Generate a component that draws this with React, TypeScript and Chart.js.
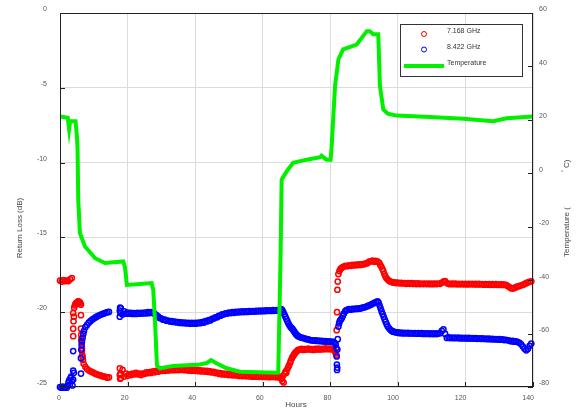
import React, { useEffect, useRef } from 'react';
import { Chart, registerables } from 'chart.js';

Chart.register(...registerables);

// ---------- text ----------
const seriesNames = ['7.168 GHz', '8.422 GHz', 'Temperature'];
const xTitle = 'Hours';
const yTitle = 'Return Loss (dB)';
const y2TitleMain = 'Temperature (';
const y2TitleUnit = 'C)';

// ---------- data ----------
// Sampled runs: [start hour, readings every 0.5 h]
const SAMPLE_STEP = 0.5;

const loss7168Runs: [number, number[]][] = [
  [0, [-17.88, -17.95, -17.85, -17.93, -17.88, -17.92, -17.8, -17.72]],
  [7, [-23.45, -23.65, -23.8, -23.88, -23.95, -24.0, -24.05, -24.12, -24.15, -24.2, -24.22, -24.28, -24.3, -24.32, -24.38, -24.35]],
  [18, [
    -24.4, -23.85, -24.3, -24.1, -24.25, -24.15, -24.2, -24.1, -24.15, -24.05,
    -24.15, -24.1, -24.2, -24.1, -24.12, -24.02, -24.08, -24.0, -24.05, -23.95,
    -24.02, -23.92, -23.98, -23.88, -23.93, -23.85, -23.92, -23.84, -23.9, -23.82,
    -23.88, -23.8, -23.88, -23.82, -23.87, -23.8, -23.86, -23.8, -23.88, -23.82,
    -23.9, -23.84, -23.92, -23.85, -23.92, -23.86, -23.94, -23.88, -23.96, -23.9,
    -23.97, -23.92, -23.99, -23.95, -24.03, -23.98, -24.07, -24.03, -24.12, -24.07,
    -24.16, -24.1, -24.17, -24.12, -24.2, -24.14, -24.22, -24.16, -24.23, -24.18,
    -24.26, -24.2, -24.27, -24.21, -24.28, -24.22, -24.29, -24.24, -24.31, -24.25,
    -24.31, -24.26, -24.32, -24.26, -24.32, -24.27, -24.33, -24.27, -24.34, -24.28,
    -24.33, -24.28, -24.35, -24.3, -24.37,
  ]],
  [71, [-22.5, -22.45, -22.52, -22.46, -22.5, -22.44, -22.5, -22.46, -22.52, -22.45, -22.5, -22.44, -22.5, -22.45, -22.48, -22.42, -22.47, -22.43, -22.48, -22.44, -22.5]],
  [84, [-16.95, -16.9, -16.93, -16.87, -16.9, -16.84, -16.88, -16.82, -16.86, -16.8, -16.84, -16.78, -16.8, -16.74, -16.72, -16.62, -16.6, -16.55, -16.62, -16.56, -16.62]],
  [99, [
    -18.0, -18.05, -18.02, -18.07, -18.04, -18.08, -18.05, -18.1, -18.06, -18.1,
    -18.06, -18.11, -18.07, -18.12, -18.07, -18.12, -18.08, -18.12, -18.08, -18.12,
    -18.08, -18.13, -18.09, -18.13, -18.08, -18.12, -18.08, -18.1, -18.03, -17.95,
    -17.92, -18.05, -18.1, -18.13, -18.09, -18.13, -18.09, -18.14, -18.1, -18.14,
    -18.1, -18.14, -18.1, -18.15, -18.1, -18.14, -18.1, -18.15, -18.11, -18.15,
    -18.11, -18.15, -18.12, -18.16, -18.12, -18.16, -18.12, -18.17, -18.13, -18.17,
    -18.13, -18.17, -18.14, -18.18, -18.14, -18.18, -18.17, -18.25, -18.32, -18.4,
    -18.42, -18.38, -18.33, -18.28, -18.25, -18.2, -18.17, -18.12, -18.06, -18.0,
    -17.97, -17.93,
  ]],
];

// irregular readings during fast transitions: [hour, dB]
const loss7168Transitions: [number, number][] = [
  [3.9, -20.06], [4.0, -20.6], [3.9, -21.1], [3.9, -21.6], [4.1, -20.3], [4.2, -19.7], [4.4, -19.55], [4.6, -19.45], [4.8, -19.4],
  [5.0, -19.35], [5.2, -19.3], [5.4, -19.28], [5.6, -19.3], [5.8, -19.32], [6.0, -19.4], [6.2, -19.5], [6.2, -20.2], [6.2, -21.1],
  [6.3, -21.5], [6.3, -21.8], [6.4, -22.0], [6.5, -22.4], [6.5, -22.6], [6.6, -22.85], [6.7, -23.0], [6.8, -23.2],
  [17.7, -23.75], [17.8, -24.45], [17.9, -24.1], [17.7, -24.2],
  [65.5, -24.45], [65.8, -24.6], [66.0, -24.25], [66.2, -24.7], [66.5, -24.1], [66.8, -23.95], [67.0, -24.05], [67.3, -23.8],
  [67.6, -23.65], [67.8, -23.55], [68.1, -23.4], [68.3, -23.25], [68.6, -23.1], [68.8, -23.0], [69.1, -22.9], [69.3, -22.82],
  [69.6, -22.72], [69.9, -22.65], [70.2, -22.58], [70.5, -22.52],
  [81.3, -22.6], [81.6, -22.75], [81.8, -22.85], [81.9, -21.2], [82.0, -20.0], [82.1, -18.5], [82.2, -17.95], [82.4, -17.45],
  [82.7, -17.25], [83.0, -17.12], [83.3, -17.05], [83.6, -17.0],
  [94.5, -16.7], [94.8, -16.85], [95.1, -16.95], [95.4, -17.1], [95.7, -17.25], [96.0, -17.45], [96.3, -17.6], [96.6, -17.72],
  [97.0, -17.82], [97.4, -17.9], [97.8, -17.95], [98.2, -17.98], [98.6, -18.02],
];

const loss8422Runs: [number, number[]][] = [
  [7.5, [-21.0, -20.85, -20.7, -20.6, -20.5, -20.42, -20.35, -20.28, -20.22, -20.17, -20.12, -20.08, -20.04, -20.0, -19.98]],
  [18, [
    -19.75, -20.15, -19.95, -20.1, -20.02, -20.1, -20.05, -20.12, -20.06, -20.12,
    -20.05, -20.1, -20.04, -20.09, -20.03, -20.08, -20.0, -20.06, -20.0, -20.06,
    -20.1, -20.2, -20.28, -20.38, -20.42, -20.5, -20.5, -20.57, -20.56, -20.62,
    -20.6, -20.65, -20.63, -20.69, -20.66, -20.72, -20.68, -20.74, -20.7, -20.75,
    -20.71, -20.77, -20.72, -20.77, -20.72, -20.76, -20.7, -20.74, -20.66, -20.7,
    -20.6, -20.62, -20.52, -20.55, -20.45, -20.42, -20.35, -20.33, -20.25, -20.23,
    -20.15, -20.14, -20.08, -20.09, -20.03, -20.06, -20.0, -20.04, -19.98, -20.02,
    -19.96, -20.0, -19.95, -19.99, -19.94, -19.98, -19.93, -19.97, -19.92, -19.96,
    -19.91, -19.95, -19.9, -19.94, -19.89, -19.93, -19.88, -19.92, -19.87, -19.92,
    -19.86, -19.91, -19.86, -19.9, -19.84,
  ]],
  [71, [-21.66, -21.7, -21.73, -21.76, -21.8, -21.82, -21.86, -21.88, -21.9, -21.88, -21.92, -21.9, -21.94, -21.92, -21.96, -21.94, -21.97, -21.95, -21.98, -21.96, -22.0]],
  [85, [-19.84, -19.8, -19.83, -19.78, -19.8, -19.76, -19.78, -19.74, -19.76, -19.7, -19.68, -19.64, -19.6, -19.55, -19.5, -19.44, -19.38, -19.32, -19.28]],
  [99, [
    -21.32, -21.36, -21.35, -21.4, -21.37, -21.42, -21.38, -21.42, -21.38, -21.43,
    -21.39, -21.43, -21.39, -21.44, -21.4, -21.44, -21.4, -21.45, -21.41, -21.45,
    -21.41, -21.46, -21.42, -21.46, -21.42, -21.46, -21.42, -21.4, -21.25, -21.15,
    -21.45, -21.72, -21.68, -21.73, -21.69, -21.74, -21.7, -21.74, -21.7, -21.75,
    -21.71, -21.75, -21.71, -21.76, -21.72, -21.76, -21.73, -21.77, -21.73, -21.78,
    -21.74, -21.78, -21.75, -21.79, -21.76, -21.8, -21.77, -21.81, -21.78, -21.82,
    -21.79, -21.83, -21.8, -21.84, -21.82, -21.86, -21.84, -21.88, -21.9, -21.95,
    -21.92, -21.97, -21.95, -22.0, -22.05, -22.15, -22.3, -22.45, -22.55, -22.45,
    -22.25, -22.1,
  ]],
];

const loss8422Transitions: [number, number][] = [
  [0.0, -25.0], [0.4, -25.05], [0.8, -24.98], [1.2, -25.05], [1.6, -25.0], [2.0, -25.05], [2.3, -24.9], [2.5, -24.7], [2.7, -24.55],
  [2.9, -24.85], [3.1, -24.4], [3.3, -24.3], [3.5, -24.6], [3.7, -24.9], [3.9, -24.5], [4.1, -24.05], [3.9, -23.9], [3.9, -22.6],
  [6.2, -24.1], [6.2, -23.07], [6.3, -22.5], [6.4, -22.2], [6.5, -21.95], [6.7, -21.7], [6.9, -21.45], [7.1, -21.25],
  [17.7, -20.3], [17.8, -19.7], [17.9, -20.05], [17.7, -19.9],
  [65.5, -19.8], [65.8, -19.88], [66.1, -20.0], [66.4, -20.15], [66.7, -20.3], [67.0, -20.45], [67.3, -20.6], [67.6, -20.75],
  [67.9, -20.88], [68.2, -20.98], [68.5, -21.05], [68.8, -21.12], [69.1, -21.22], [69.4, -21.32], [69.7, -21.42], [70.0, -21.5],
  [70.3, -21.57], [70.6, -21.62],
  [81.3, -22.05], [81.6, -22.15], [81.8, -22.4], [81.9, -22.96], [81.95, -23.5], [82.0, -23.86], [82.05, -23.7], [82.1, -22.5],
  [82.2, -21.8], [82.4, -20.96], [82.6, -20.75], [82.8, -20.6], [83.1, -20.5], [83.4, -20.4], [83.7, -20.25], [84.0, -20.1],
  [84.4, -19.95], [84.7, -19.88],
  [94.3, -19.35], [94.6, -19.55], [94.9, -19.75], [95.2, -19.95], [95.5, -20.12], [95.8, -20.3], [96.1, -20.48], [96.4, -20.65],
  [96.7, -20.8], [97.0, -20.95], [97.4, -21.08], [97.8, -21.18], [98.2, -21.25], [98.6, -21.3],
];

// [hour, temperature °C]
const temperature: [number, number][] = [
  [0, 21.3], [2.3, 20.8], [2.7, 16.6], [3.0, 19.5], [4.6, 19.5], [5.0, 14], [5.2, 8.9], [5.4, -9.9], [5.9, -22.4], [7.4, -27.4],
  [10.4, -31.8], [13.3, -33.6], [18.7, -33.0], [19.2, -34.9], [19.8, -41.8], [23.7, -41.4], [27.1, -41.1], [27.6, -43.6],
  [28.1, -55], [28.7, -72], [29.6, -73], [33.5, -72.1], [41.4, -71.6], [43.5, -71], [44.7, -69.9], [45.9, -70.8], [49.3, -73],
  [53.3, -74.3], [64.1, -74.7], [64.6, -74.6], [65.3, -30], [65.6, -2.4], [67.1, 0.7], [69.0, 3.9], [73.0, 5.1], [77.0, 6.0],
  [77.4, 6.6], [78.9, 5.1], [80.1, 5.1], [80.4, 10], [81.4, 32.6], [82.4, 42.6], [83.8, 46.4], [87.8, 48.2], [89.3, 50.7],
  [90.8, 53.2], [91.7, 53.2], [92.7, 52], [94.2, 52], [94.7, 32.6], [95.7, 23.9], [97, 22.3], [99.6, 21.6], [109.5, 21.1],
  [119.4, 20.4], [128.2, 19.5], [132.2, 20.6], [140, 21.3],
];

const xRange = [0, 140];
const lossRange = [-25, 0];
const tempRange = [-80, 60];

const RED = '#ff0000';
const BLUE = '#0000ff';
const GREEN = '#00f000';
const FONT = '"Liberation Sans", Arial, sans-serif';

const runsToXY = (runs: [number, number[]][]) =>
  runs.flatMap(([start, vals]) => vals.map((y, i) => ({ x: start + i * SAMPLE_STEP, y })));
const toXY = (arr: [number, number][]) => arr.map(([x, y]) => ({ x, y }));

const decorPlugin = {
  id: 'decor',
  afterDraw(chart: any) {
    const { ctx, chartArea: a, scales } = chart;
    ctx.save();
    ctx.strokeStyle = '#222';
    ctx.lineWidth = 1;
    ctx.beginPath();
    scales.x.ticks.forEach((t: any) => {
      const px = Math.round(scales.x.getPixelForValue(t.value)) + 0.5;
      ctx.moveTo(px, a.bottom);
      ctx.lineTo(px, a.bottom - 5);
    });
    scales.y.ticks.forEach((t: any) => {
      const py = Math.round(scales.y.getPixelForValue(t.value)) + 0.5;
      ctx.moveTo(a.left, py);
      ctx.lineTo(a.left + 5, py);
    });
    scales.y2.ticks.forEach((t: any) => {
      const py = Math.round(scales.y2.getPixelForValue(t.value)) + 0.5;
      ctx.moveTo(a.right, py);
      ctx.lineTo(a.right - 5, py);
    });
    ctx.stroke();
    ctx.strokeRect(Math.round(a.left) + 0.5, Math.round(a.top) + 0.5, Math.round(a.right - a.left) - 1, Math.round(a.bottom - a.top) - 1);

    // legend
    const lx = 400, ly = 24, lw = 122, lh = 52;
    ctx.fillStyle = '#ffffff';
    ctx.fillRect(lx, ly, lw, lh);
    ctx.strokeStyle = '#333';
    ctx.strokeRect(lx + 0.5, ly + 0.5, lw, lh);
    ctx.lineWidth = 1;
    ctx.strokeStyle = RED;
    ctx.beginPath();
    ctx.arc(424, 34, 2.5, 0, Math.PI * 2);
    ctx.stroke();
    ctx.strokeStyle = BLUE;
    ctx.beginPath();
    ctx.arc(424, 49.5, 2.5, 0, Math.PI * 2);
    ctx.stroke();
    ctx.strokeStyle = GREEN;
    ctx.lineWidth = 4;
    ctx.beginPath();
    ctx.moveTo(404, 66);
    ctx.lineTo(444, 66);
    ctx.stroke();
    ctx.fillStyle = '#333';
    ctx.font = `7px ${FONT}`;
    ctx.textAlign = 'left';
    ctx.textBaseline = 'middle';
    ctx.fillText(seriesNames[0], 447, 31);
    ctx.fillText(seriesNames[1], 447, 47);
    ctx.fillText(seriesNames[2], 447, 63);

    // axis titles
    ctx.fillStyle = '#444';
    ctx.font = `8px ${FONT}`;
    ctx.textAlign = 'center';
    ctx.fillText(xTitle, 296, 405);
    ctx.save();
    ctx.translate(20, 228);
    ctx.rotate(-Math.PI / 2);
    ctx.fillText(yTitle, 0, 0);
    ctx.restore();
    ctx.save();
    ctx.translate(567, 232);
    ctx.rotate(-Math.PI / 2);
    ctx.fillText(y2TitleMain, 0, 0);
    ctx.restore();
    ctx.save();
    ctx.translate(567, 172);
    ctx.rotate(-Math.PI / 2);
    ctx.textAlign = 'left';
    ctx.font = `6px ${FONT}`;
    ctx.fillText('\u00b0', 0, -4);
    ctx.font = `8px ${FONT}`;
    ctx.fillText(y2TitleUnit, 4, 0);
    ctx.restore();
    ctx.restore();
  },
};

export default function App() {
  const ref = useRef<HTMLCanvasElement | null>(null);
  useEffect(() => {
    if (!ref.current) return;
    const tickFont = { family: FONT, size: 7 };
    const hidden = 'rgba(0,0,0,0)';
    const chart = new Chart(ref.current, {
      type: 'scatter',
      data: {
        datasets: [
          {
            type: 'line',
            label: seriesNames[2],
            data: toXY(temperature),
            yAxisID: 'y2',
            borderColor: GREEN,
            borderWidth: 4,
            pointRadius: 0,
            tension: 0,
            fill: false,
            order: 0,
          } as any,
          {
            label: seriesNames[1],
            data: [...runsToXY(loss8422Runs), ...toXY(loss8422Transitions)],
            yAxisID: 'y',
            borderColor: BLUE,
            backgroundColor: hidden,
            pointRadius: 2.6,
            borderWidth: 1.5,
            clip: false,
            order: 1,
          },
          {
            label: seriesNames[0],
            data: [...runsToXY(loss7168Runs), ...toXY(loss7168Transitions)],
            yAxisID: 'y',
            borderColor: RED,
            backgroundColor: hidden,
            pointRadius: 2.6,
            borderWidth: 1.5,
            clip: false,
            order: 2,
          },
        ],
      },
      options: {
        responsive: false,
        animation: false,
        events: [],
        layout: { padding: { top: 13, left: 0, right: 0, bottom: 0 } },
        plugins: { legend: { display: false }, tooltip: { enabled: false }, title: { display: false } },
        scales: {
          x: {
            type: 'linear',
            min: xRange[0],
            max: xRange[1],
            border: { display: false },
            grid: { color: '#dcdcdc', drawTicks: true, tickLength: 5, tickColor: hidden },
            ticks: { stepSize: 20, font: tickFont, color: '#555', padding: 2, align: 'end', labelOffset: 1, maxRotation: 0 },
            afterFit: (s: any) => { s.height = 32; },
          },
          y: {
            type: 'linear',
            position: 'left',
            min: lossRange[0],
            max: lossRange[1],
            border: { display: false },
            grid: { color: '#dcdcdc', drawTicks: true, tickLength: 10, tickColor: hidden },
            ticks: { stepSize: 5, font: tickFont, color: '#555', padding: 3, labelOffset: -4 },
            afterFit: (s: any) => { s.width = 60; },
          },
          y2: {
            type: 'linear',
            position: 'right',
            min: tempRange[0],
            max: tempRange[1],
            border: { display: false },
            grid: { display: true, color: hidden, drawOnChartArea: false, drawTicks: true, tickLength: 4, tickColor: hidden },
            ticks: { stepSize: 20, font: tickFont, color: '#555', padding: 2, labelOffset: -3.5 },
            afterFit: (s: any) => { s.width = 43; },
          },
        },
      },
      plugins: [decorPlugin],
    } as any);
    return () => chart.destroy();
  }, []);
  return (
    <div style={{ position: 'fixed', left: 0, top: 0, width: 576, height: 419, background: '#fff' }}>
      <canvas ref={ref} width={576} height={419} />
    </div>
  );
}
